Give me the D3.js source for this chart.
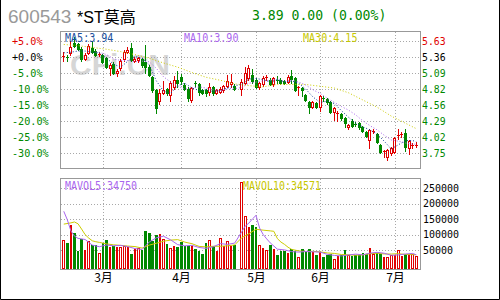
<!DOCTYPE html>
<html>
<head>
<meta charset="utf-8">
<script src="https://cdn.jsdelivr.net/npm/d3@7"></script>
<style>
  body { margin: 0; background: #fff; }
  svg { display: block; }
</style>
</head>
<body>
<div id="chart"></div>
<script>
// ---- chart data ----
const stockCode = "600543";
const stockName = "*ST莫高";
const quote = "3.89 0.00 (0.00%)";
const basePrice = 5.36;
const pctTicks = [5, 0, -5, -10, -15, -20, -25, -30];
const volTicks = [250000, 200000, 150000, 100000, 50000];
const monthLabels = ["3月", "4月", "5月", "6月", "7月"];
const monthSlots = [11, 33, 54, 72, 93];
const slotCount = 100;

const open = [5.36,5.36,5.42,5.60,5.57,5.49,5.33,5.43,5.51,5.46,
  5.40,5.39,5.34,5.17,5.24,5.10,5.17,5.32,5.44,5.51,
  5.30,5.31,5.33,5.28,5.19,5.02,4.80,4.62,4.76,4.82,
  4.72,4.85,4.98,5.02,4.89,4.82,4.64,4.92,4.91,4.81,
  4.80,4.78,4.86,4.76,4.78,4.80,4.88,4.90,4.87,null,
  4.82,4.92,5.01,5.06,4.97,4.86,4.90,5.02,4.97,4.90,
  4.98,4.97,4.95,4.94,5.04,5.00,4.84,4.84,4.72,4.61,
  4.52,4.59,4.53,4.68,4.66,4.61,4.44,4.41,4.41,4.33,
  4.19,4.28,4.24,4.25,4.18,4.10,3.97,4.11,4.07,3.88,
  3.77,3.69,3.75,3.77,4.04,4.06,4.09,3.84,3.88,3.89];
const high = [5.44,5.40,5.62,5.69,5.60,5.52,5.43,5.58,5.62,5.50,
  5.45,5.41,5.36,5.26,5.27,5.16,5.32,5.47,5.52,5.60,
  5.36,5.36,5.35,5.56,5.22,5.05,4.82,4.83,4.95,4.84,
  4.95,5.05,5.12,5.07,4.93,4.85,4.86,4.95,4.93,4.83,
  4.82,4.92,4.88,4.83,4.86,4.89,5.06,5.08,4.90,null,
  4.99,5.20,5.22,5.16,5.00,4.94,5.05,5.06,5.00,5.03,
  5.04,5.00,4.98,5.06,5.14,5.02,4.88,4.86,4.74,4.63,
  4.63,4.61,4.72,4.71,4.68,4.63,4.53,4.45,4.43,4.35,
  4.23,4.32,4.27,4.27,4.20,4.12,4.15,4.15,4.09,3.90,
  3.80,3.82,3.85,4.02,4.16,4.10,4.15,3.97,3.92,3.93];
const low = [5.30,5.30,5.40,5.52,5.48,5.30,5.31,5.41,5.42,5.37,
  5.37,5.26,5.17,5.06,5.08,5.05,5.15,5.30,5.42,5.29,
  5.27,5.28,5.20,5.09,5.04,4.78,4.42,4.58,4.74,4.72,
  4.63,4.83,4.85,4.90,4.80,4.63,4.60,4.86,4.72,4.74,
  4.70,4.72,4.73,4.74,4.76,4.78,4.86,4.86,4.80,null,
  4.72,4.90,4.98,4.93,4.84,4.83,4.88,4.98,4.89,4.88,
  4.93,4.90,4.90,4.92,4.93,4.79,4.72,4.70,4.62,4.43,
  4.50,4.50,4.46,4.63,4.58,4.42,4.30,4.29,4.31,4.19,
  4.16,4.18,4.20,4.16,4.10,4.02,3.83,4.08,3.92,3.75,
  3.69,3.63,3.72,3.75,3.99,4.02,3.78,3.74,3.84,3.86];
const close = [5.37,5.34,5.52,5.55,5.50,5.32,5.39,5.54,5.44,5.39,
  5.41,5.28,5.19,5.22,5.10,5.13,5.30,5.45,5.48,5.31,
  5.33,5.34,5.22,5.20,5.06,4.81,4.50,4.76,4.80,4.76,
  4.92,4.98,4.92,4.95,4.82,4.67,4.84,4.91,4.78,4.76,
  4.75,4.85,4.75,4.80,4.83,4.87,4.95,4.94,4.82,null,
  4.94,5.09,5.17,4.95,4.86,4.92,5.00,5.03,4.91,5.00,
  4.97,4.92,4.92,5.02,4.99,4.81,4.86,4.80,4.64,4.52,
  4.61,4.52,4.70,4.65,4.61,4.44,4.51,4.42,4.33,4.25,
  4.22,4.21,4.23,4.18,4.12,4.04,4.13,4.12,3.94,3.77,
  3.78,3.80,3.83,4.00,4.05,4.07,3.86,3.95,3.89,3.89];
const volume = [82600,72900,131100,105200,47900,85800,51200,78400,67300,67300,
  40500,72900,83500,59900,62200,59900,59900,63100,59900,37200,
  54400,56700,51200,112700,105200,80300,99700,102000,86800,70600,
  56700,63100,60900,75100,62200,64100,64100,54400,47900,37200,
  72900,82600,62200,47900,89000,64100,78400,64100,67300,null,
  272000,159300,123700,132100,123700,67300,56700,51200,67300,54400,
  35000,47900,47900,40500,53400,47900,27500,53400,43700,53400,
  43700,33000,43700,27500,33000,37200,22000,29800,33000,51200,
  35000,31700,33000,33000,40500,37200,56700,38200,40500,37200,
  26000,28500,33000,33000,51200,32100,37200,37200,37200,30000];

// moving averages as [slot, value]
const ma5 = [[0,5.43],[2,5.44],[4,5.46],[6,5.46],[8,5.44],[10,5.43],[12,5.34],[14,5.24],
  [16,5.19],[18,5.29],[20,5.37],[22,5.34],[24,5.23],[26,4.96],[28,4.79],[30,4.75],[32,4.88],
  [34,4.92],[36,4.84],[38,4.80],[40,4.81],[42,4.78],[44,4.80],[46,4.84],[48,4.88],[50,4.90],
  [52,4.99],[54,5.00],[56,4.98],[58,4.94],[60,4.98],[62,4.94],[64,4.96],[66,4.92],[68,4.82],
  [70,4.69],[72,4.60],[74,4.62],[76,4.58],[78,4.46],[80,4.35],[82,4.25],[84,4.19],[86,4.14],
  [88,4.07],[90,3.95],[92,3.82],[94,3.89],[96,3.96],[98,3.96],[99,3.94]];
const ma10 = [[9,5.44],[10,5.44],[12,5.40],[14,5.33],[16,5.30],[18,5.30],[20,5.28],[22,5.29],
  [24,5.28],[26,5.17],[28,5.03],[30,4.94],[32,4.87],[34,4.82],[36,4.84],[38,4.86],[40,4.84],
  [42,4.81],[44,4.79],[46,4.83],[48,4.83],[50,4.85],[52,4.92],[54,4.94],[56,4.96],[58,4.97],
  [60,4.99],[62,4.95],[64,4.97],[66,4.94],[68,4.89],[70,4.81],[72,4.75],[74,4.67],[76,4.60],
  [78,4.53],[80,4.47],[82,4.39],[84,4.29],[86,4.21],[88,4.14],[90,4.05],[92,3.97],[94,3.95],
  [96,3.92],[98,3.90],[99,3.90]];
const ma30 = [[0,5.57],[4,5.55],[8,5.52],[12,5.49],[16,5.45],[20,5.40],[24,5.34],[28,5.26],
  [32,5.19],[36,5.10],[40,5.02],[44,4.97],[48,4.91],[52,4.88],[56,4.86],[60,4.90],[64,4.90],
  [68,4.90],[72,4.87],[76,4.84],[80,4.76],[84,4.64],[88,4.52],[92,4.37],[96,4.25],[99,4.16]];
const mavol5 = [[0,175500],[1,148000],[2,112000],[3,95000],[4,87900],[6,84200],[8,66100],
  [10,60900],[12,66300],[14,63800],[16,65100],[18,61000],[20,54900],[22,51900],[24,76000],
  [26,89800],[28,94800],[30,83200],[32,67600],[34,63600],[36,65300],[38,58500],[40,55300],
  [42,60600],[44,70900],[46,68300],[48,72600],[50,109200],[51,128200],[52,137300],[53,150900],
  [54,162200],[55,121200],[56,100700],[57,86200],[58,73200],[60,52900],[62,50500],[64,44900],
  [66,43400],[68,45200],[70,44300],[72,43500],[74,36200],[76,32700],[78,31000],[80,34200],
  [82,36800],[84,34600],[86,40100],[88,42600],[90,39700],[92,33000],[94,34300],[96,37300],
  [98,39000],[99,34750]];
const mavol10 = [[0,134000],[2,138000],[3,141000],[4,135000],[5,118000],[6,100000],[7,89000],
  [8,80000],[9,77000],[10,74800],[12,70000],[14,66900],[16,65200],[18,62900],[20,61300],
  [22,56400],[24,66000],[26,72000],[28,78600],[30,82200],[32,83800],[34,75700],[36,70600],
  [38,61900],[40,60200],[42,62300],[44,62200],[46,63700],[48,66600],[50,90100],[52,102800],
  [54,117400],[56,114500],[58,112100],[59,110800],[60,87100],[61,75900],[62,68400],[63,59200],
  [64,52200],[66,47300],[68,45200],[70,45900],[72,44000],[74,40700],[76,39100],[78,35600],
  [80,34500],[82,33300],[84,34600],[86,38100],[88,39700],[90,37400],[92,37100],[94,38200],
  [96,35700],[98,35300],[99,34571]];

const maNames = ["MA5", "MA10", "MA30"];
const maLast = ["3.94", "3.90", "4.15"];
const volMaNames = ["MAVOL5", "MAVOL10"];
const volMaLast = ["34750", "34571"];

(function() {
  const RED = "#e00000";
  const GREEN = "#008800";
  const GRID = "#a8a8a8";
  const FRAME = "#999";
  const MONO = "'DejaVu Sans Mono', monospace";

  let priceBox = { x0: 60, x1: 420, y0: 31, y1: 168 };
  let volBox = { x0: 60, x1: 420, y0: 178, y1: 269 };

  let svg = d3.select("#chart")
    .append("svg")
    .attr("width", 500)
    .attr("height", 300);

  let x = d3.scaleBand()
    .domain(d3.range(slotCount))
    .range([62, 418]);
  let cx = i => x(i) + x.bandwidth() / 2;

  let yPrice = d3.scaleLinear()
    .domain([basePrice * 0.70, basePrice * 1.05])
    .range([153, 41]);

  let yVol = d3.scaleLinear()
    .domain([0, 250000])
    .range([265.5, 188.3]);

  // fit monospace label to the narrow pixel font of the original
  function fit(sel, charW) {
    sel.attr("textLength", function() { return this.textContent.length * charW; })
      .attr("lengthAdjust", "spacingAndGlyphs");
  }

  function tone(v) {
    return v > 0 ? RED : v === 0 ? "#000" : GREEN;
  }

  // ---- header ----
  svg.append("text")
    .attr("x", 8).attr("y", 23)
    .style("font", "19px 'Liberation Sans', Arial, sans-serif")
    .attr("fill", "#999")
    .text(stockCode);
  svg.append("text")
    .attr("x", 77).attr("y", 23)
    .style("font", "16px 'Liberation Sans', 'Noto Sans CJK SC', sans-serif")
    .attr("fill", "#000")
    .text(stockName);
  svg.append("text")
    .attr("x", 252).attr("y", 20)
    .style("font-family", MONO).style("font-size", "14px")
    .attr("fill", GREEN)
    .text(quote)
    .call(fit, 7.9);

  // ---- watermark ----
  svg.append("text")
    .attr("x", 70).attr("y", 75)
    .style("font", "bold 30px 'Liberation Sans', Arial, sans-serif")
    .attr("fill", "#d6d6d6")
    .text("CFi.CN");

  // ---- grids ----
  function drawGrid(box, yTicks) {
    let g = svg.append("g")
      .attr("stroke", GRID)
      .attr("stroke-dasharray", "1,2")
      .attr("shape-rendering", "crispEdges");
    g.selectAll("line.h").data(yTicks).enter()
      .append("line").attr("class", "h")
      .attr("x1", box.x0 + 1).attr("x2", box.x1)
      .attr("y1", d => Math.round(d) + 0.5)
      .attr("y2", d => Math.round(d) + 0.5);
    g.selectAll("line.v").data(monthSlots).enter()
      .append("line").attr("class", "v")
      .attr("x1", d => Math.round(cx(d)) + 0.5)
      .attr("x2", d => Math.round(cx(d)) + 0.5)
      .attr("y1", box.y0 + 1).attr("y2", box.y1);
  }
  drawGrid(priceBox, pctTicks.map(p => yPrice(basePrice * (1 + p / 100))));
  drawGrid(volBox, volTicks.map(v => yVol(v)));

  // ---- frames ----
  [priceBox, volBox].forEach(function(b) {
    svg.append("rect")
      .attr("x", b.x0 + 0.5).attr("y", b.y0 + 0.5)
      .attr("width", b.x1 - b.x0).attr("height", b.y1 - b.y0)
      .attr("fill", "none").attr("stroke", FRAME);
  });

  // ---- axis labels ----
  svg.selectAll("text.pct").data(pctTicks).enter()
    .append("text").attr("class", "pct")
    .attr("x", 12)
    .attr("y", p => yPrice(basePrice * (1 + p / 100)) + 4)
    .style("font-family", MONO).style("font-size", "11px")
    .attr("fill", p => tone(p))
    .text(p => (p >= 0 ? "+" : "") + p.toFixed(1) + "%")
    .call(fit, 6.1);

  svg.selectAll("text.px").data(pctTicks).enter()
    .append("text").attr("class", "px")
    .attr("x", 422)
    .attr("y", p => yPrice(basePrice * (1 + p / 100)) + 4)
    .style("font-family", MONO).style("font-size", "11px")
    .attr("fill", p => tone(p))
    .text(p => (basePrice * (1 + p / 100)).toFixed(2))
    .call(fit, 5.9);

  svg.selectAll("text.vol").data(volTicks).enter()
    .append("text").attr("class", "vol")
    .attr("x", 423)
    .attr("y", v => yVol(v) + 3.5)
    .style("font-family", MONO).style("font-size", "11px")
    .attr("fill", "#000")
    .text(v => String(v))
    .call(fit, 6);

  svg.selectAll("text.month").data(monthSlots).enter()
    .append("text").attr("class", "month")
    .attr("x", d => Math.round(cx(d)) + 0.5)
    .attr("y", 282)
    .attr("text-anchor", "middle")
    .style("font", "12px 'Noto Sans CJK SC', sans-serif")
    .attr("fill", "#000")
    .text((d, i) => monthLabels[i]);

  // ---- candles ----
  let slots = d3.range(slotCount).filter(i => close[i] != null);
  let isUp = i => close[i] >= open[i];

  let gCandle = svg.append("g").attr("shape-rendering", "crispEdges");
  let candle = gCandle.selectAll("g").data(slots).enter().append("g");

  candle.append("line")
    .attr("x1", i => Math.round(cx(i) - 1.5) + 1.5)
    .attr("x2", i => Math.round(cx(i) - 1.5) + 1.5)
    .attr("y1", i => Math.round(yPrice(high[i])))
    .attr("y2", i => Math.round(yPrice(low[i])) + 1)
    .attr("stroke", i => (isUp(i) ? RED : GREEN));

  candle.each(function(i) {
    let g = d3.select(this);
    let x0 = Math.round(cx(i) - 1.5);
    let top = Math.round(yPrice(Math.max(open[i], close[i])));
    let bot = Math.round(yPrice(Math.min(open[i], close[i])));
    if (bot - top < 2) {
      g.append("rect")
        .attr("x", x0).attr("y", top)
        .attr("width", 3).attr("height", Math.max(1, bot - top))
        .attr("fill", isUp(i) ? RED : GREEN);
    } else if (isUp(i)) {
      g.append("rect")
        .attr("x", x0 + 0.5).attr("y", top + 0.5)
        .attr("width", 2).attr("height", bot - top)
        .attr("fill", "#fff").attr("stroke", RED);
    } else {
      g.append("rect")
        .attr("x", x0).attr("y", top)
        .attr("width", 3).attr("height", bot - top + 1)
        .attr("fill", GREEN);
    }
  });

  // ---- volume bars ----
  let gVol = svg.append("g").attr("shape-rendering", "crispEdges");
  gVol.selectAll("rect").data(slots).enter()
    .append("rect")
    .each(function(i) {
      let x0 = Math.round(cx(i) - 1.3);
      let w = Math.round(cx(i) + 1.3) - x0;
      let top = Math.round(yVol(volume[i]));
      let bar = d3.select(this);
      if (isUp(i)) {
        bar.attr("x", x0 + 0.5).attr("y", top + 0.5)
          .attr("width", w - 1).attr("height", volBox.y1 - top - 1)
          .attr("fill", "#fff").attr("stroke", RED);
      } else {
        bar.attr("x", x0).attr("y", top)
          .attr("width", w).attr("height", volBox.y1 - top)
          .attr("fill", GREEN);
      }
    });

  // ---- moving averages ----
  let priceLine = d3.line().x(d => cx(d[0])).y(d => yPrice(d[1]));
  let volLine = d3.line().x(d => cx(d[0])).y(d => yVol(d[1]));

  [[ma30, "#cccc00"], [ma10, "#aa66ee"], [ma5, "#0b3a99"]].forEach(function(m) {
    svg.append("path")
      .attr("d", priceLine(m[0]))
      .attr("fill", "none")
      .attr("stroke", m[1])
      .attr("stroke-dasharray", "1,2");
  });
  [[mavol10, "#cccc00"], [mavol5, "#aa66ee"]].forEach(function(m) {
    svg.append("path")
      .attr("d", volLine(m[0]))
      .attr("fill", "none")
      .attr("stroke", m[1]);
  });

  // ---- legends ----
  let maColors = ["#1b4f9c", "#aa66ee", "#c8c800"];
  maNames.forEach(function(name, i) {
    svg.append("text")
      .attr("x", priceBox.x0 + 5 + 119 * i).attr("y", 42)
      .style("font-family", MONO).style("font-size", "12px")
      .attr("fill", maColors[i])
      .text(name + ":" + maLast[i])
      .call(fit, 6.05);
  });
  let volColors = ["#aa66ee", "#c8c800"];
  volMaNames.forEach(function(name, i) {
    svg.append("text")
      .attr("x", volBox.x0 + 5 + 178 * i).attr("y", 190)
      .style("font-family", MONO).style("font-size", "12px")
      .attr("fill", volColors[i])
      .text(name + ":" + volMaLast[i])
      .call(fit, 6);
  });

  // ---- outer frame ----
  svg.append("path")
    .attr("d", "M0.5,0V299.5H499.5V0")
    .attr("fill", "none")
    .attr("stroke", "#000");
})();
</script>
</body>
</html>
